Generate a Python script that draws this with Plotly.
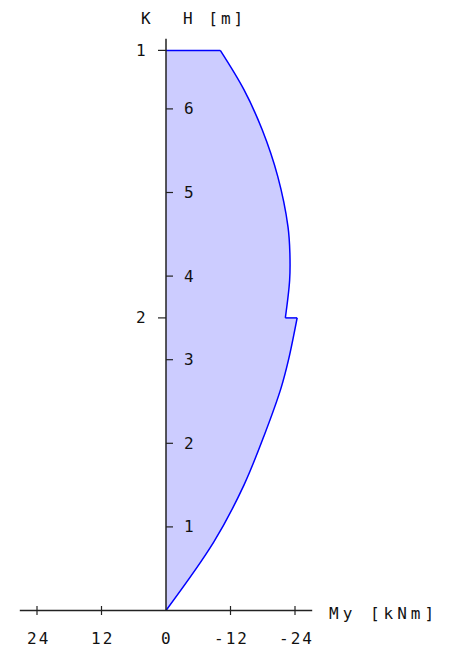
import plotly.graph_objects as go

# ---- data ----
H_lower = [0, 0.82, 1.5, 2.1, 2.66, 3.0, 3.5]
M_lower = [0, -8.9, -14.5, -18.3, -21.4, -22.8, -24.4]
H_upper = [3.5, 3.95, 4.27, 4.59, 5.19, 5.75, 6.23, 6.7]
M_upper = [-22.2, -23.0, -23.05, -22.7, -20.8, -17.9, -14.5, -10.1]
H_top = 6.7

K_heights = [6.7, 3.5]
K_labels = ["1", "2"]
H_ticks = [1, 2, 3, 4, 5, 6]
X_ticks = [24, 12, 0, -12, -24]
X_tick_labels = ["24", "12", "0", "-12", "-24"]
X_axis_extent = 27.2
H_axis_extent = 6.84

BLUE = "#0000ff"
FILL = "rgb(204,204,255)"
AX = "#222222"
FONT = "DejaVu Sans Mono"

fig = go.Figure()
# lower branch (fill to the H axis)
fig.add_trace(go.Scatter(x=M_lower, y=H_lower, mode="lines", fill="tozerox",
                         fillcolor=FILL, line=dict(color=BLUE, width=1.5, shape="spline",
                                                   smoothing=1.0),
                         hoverinfo="skip", showlegend=False))
# upper branch
fig.add_trace(go.Scatter(x=M_upper, y=H_upper, mode="lines", fill="tozerox",
                         fillcolor=FILL, line=dict(color=BLUE, width=1.5, shape="spline",
                                                   smoothing=1.0),
                         hoverinfo="skip", showlegend=False))
# jump at the support and closing line at the top
fig.add_trace(go.Scatter(x=[M_lower[-1], M_upper[0]], y=[H_lower[-1], H_upper[0]],
                         mode="lines", line=dict(color=BLUE, width=1.5),
                         hoverinfo="skip", showlegend=False))
fig.add_trace(go.Scatter(x=[M_upper[-1], 0], y=[H_top, H_top],
                         mode="lines", line=dict(color=BLUE, width=1.5),
                         hoverinfo="skip", showlegend=False))

shapes = []
shapes.append(dict(type="line", xref="x", yref="y", x0=X_axis_extent, x1=-X_axis_extent,
                   y0=0, y1=0, line=dict(color=AX, width=1.5)))
shapes.append(dict(type="line", xref="x", yref="y", x0=0, x1=0, y0=0, y1=H_axis_extent,
                   line=dict(color=AX, width=1.5)))
for v in X_ticks:
    if v == 0:
        continue
    shapes.append(dict(type="line", xref="x", yref="y", ysizemode="pixel", yanchor=0,
                       x0=v, x1=v, y0=-4.5, y1=4.5, line=dict(color=AX, width=1.2)))
for k in K_heights:
    shapes.append(dict(type="line", xref="x", yref="y", xsizemode="pixel", xanchor=0,
                       x0=-8, x1=0, y0=k, y1=k, line=dict(color=AX, width=1.2)))
for h in H_ticks:
    shapes.append(dict(type="line", xref="x", yref="y", xsizemode="pixel", xanchor=0,
                       x0=0, x1=7, y0=h, y1=h, line=dict(color=AX, width=1.2)))

def sp(t, ls):
    return f'<span style="letter-spacing:{ls}px">{t}</span>'

ann = []
tf = dict(family=FONT, size=16, color="#111111")
for v, lab in zip(X_ticks, X_tick_labels):
    ann.append(dict(x=v, y=0, xref="x", yref="y", text=sp(lab, 2), showarrow=False,
                    xanchor="center", yanchor="middle", yshift=-28, xshift=1, font=tf))
for k, lab in zip(K_heights, K_labels):
    ann.append(dict(x=0, y=k, xref="x", yref="y", text=lab, showarrow=False,
                    xanchor="right", yanchor="middle", xshift=-18, font=tf))
for h in H_ticks:
    ann.append(dict(x=0, y=h, xref="x", yref="y", text=str(h), showarrow=False,
                    xanchor="left", yanchor="middle", xshift=16, font=tf))
ann.append(dict(x=-X_axis_extent, y=0, xref="x", yref="y", text=sp("My [kNm]", 4),
                showarrow=False, xanchor="left", yanchor="middle", xshift=15, yshift=-3,
                font=tf))
ann.append(dict(x=0, y=H_axis_extent, xref="x", yref="y", text="K", showarrow=False,
                xanchor="center", yanchor="middle", xshift=-20, yshift=20, font=tf))
ann.append(dict(x=0, y=H_axis_extent, xref="x", yref="y", text=sp("H [m]", 3),
                showarrow=False, xanchor="left", yanchor="middle", xshift=15, yshift=20,
                font=tf))

# page body adds an 8 px margin; the figure is sized/offset to compensate
OFF = 8
px_per_unit = 5.375
px_per_m = 83.6
x0_px = 166 - OFF
y0_px = 610.5 - OFF
W, Hh = 449 - OFF - 1, 649 - OFF - 1
xr = [x0_px / px_per_unit, -(W - x0_px) / px_per_unit]
yr = [-(Hh - y0_px) / px_per_m, y0_px / px_per_m]

fig.update_layout(
    width=W, height=Hh, margin=dict(l=0, r=0, t=0, b=0),
    paper_bgcolor="white", plot_bgcolor="white",
    xaxis=dict(range=xr, visible=False, fixedrange=True),
    yaxis=dict(range=yr, visible=False, fixedrange=True),
    shapes=shapes, annotations=ann, showlegend=False,
)
fig.write_html("out.html", config=dict(displayModeBar=False))
